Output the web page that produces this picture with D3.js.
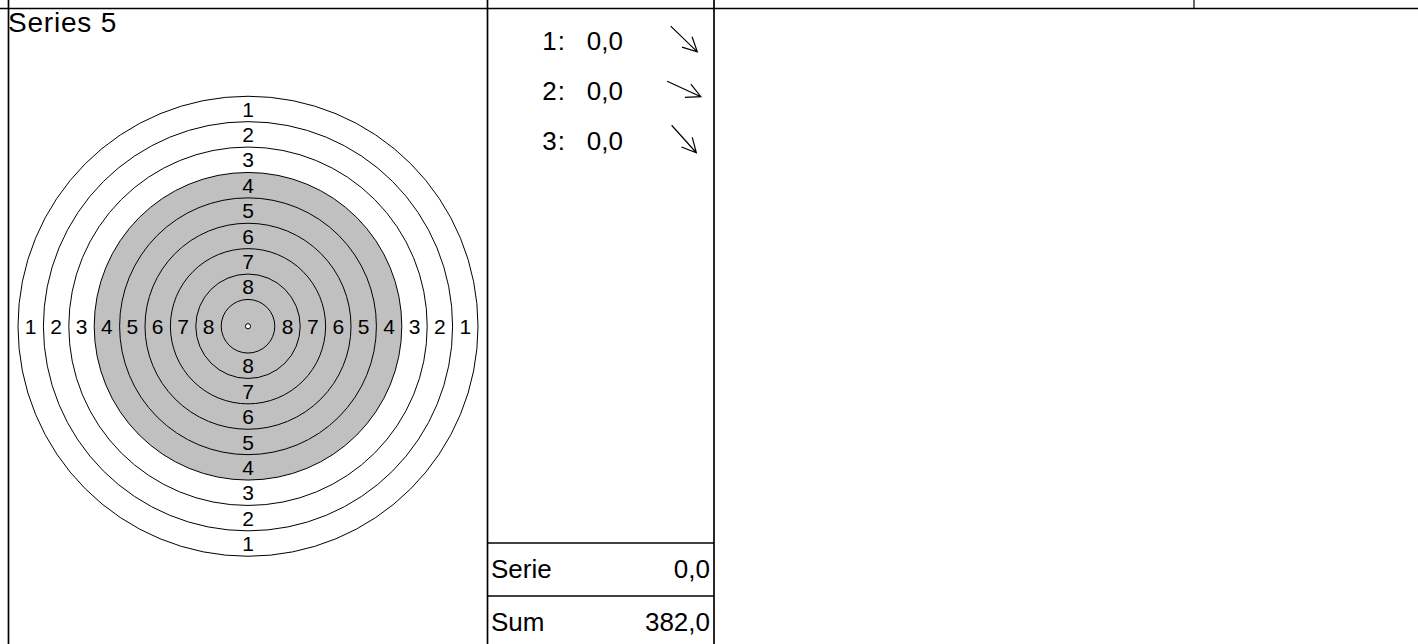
<!DOCTYPE html>
<html>
<head>
<meta charset="utf-8">
<script src="https://cdn.jsdelivr.net/npm/d3@7"></script>
<style>
  html, body { margin: 0; padding: 0; background: #fff; }
  svg { display: block; font-family: "Liberation Sans", Arial, sans-serif; }
</style>
</head>
<body>
<svg id="chart" width="1418" height="644"></svg>
<script>
// ---- data ----
const seriesTitle = "Series 5";
const ringNumbers = [1, 2, 3, 4, 5, 6, 7, 8, 9];
const ringLabels = [1, 2, 3, 4, 5, 6, 7, 8];
const blackFromRing = 4;
const shotNumbers = [1, 2, 3];
const shotValues = [0.0, 0.0, 0.0];
const shotDirections = [44, 24.5, 48]; // degrees, clockwise from east
const seriesLabel = "Serie";
const seriesValue = 0.0;
const sumLabel = "Sum";
const sumValue = 382.0;

// ---- setup ----
const W = 1418, H = 644;
const svg = d3.select("#chart");
const locale = d3.formatLocale({ decimal: ",", thousands: ".", grouping: [3], currency: ["", ""] });
const fmt = locale.format(".1f");

const frameTop = 8.5;
const colX = [8.5, 487.5, 714];
const topTick = 1194;

// frame lines
const frame = svg.append("g").attr("stroke", "#000").attr("stroke-width", 1.7).attr("fill", "none");
frame.append("line").attr("x1", 0).attr("x2", W).attr("y1", frameTop).attr("y2", frameTop);
colX.forEach(x => frame.append("line").attr("x1", x).attr("x2", x).attr("y1", 0).attr("y2", H));
frame.append("line").attr("x1", topTick).attr("x2", topTick).attr("y1", 0).attr("y2", frameTop)
  .attr("stroke-width", 1.2);

// title
svg.append("text").attr("x", 8).attr("y", 32).attr("font-size", 28)
  .attr("letter-spacing", 0.8).attr("fill", "#000").text(seriesTitle);

// ---- target ----
const cx = (colX[0] + colX[1]) / 2, cy = (frameTop + H) / 2;
const r = d3.scaleLinear().domain([1, 9]).range([230, 26.8]);
const g = svg.append("g").attr("transform", `translate(${cx},${cy})`);

g.append("circle").attr("r", r(blackFromRing)).attr("fill", "#c0c0c0");
g.selectAll("circle.ring").data(ringNumbers).join("circle")
  .attr("class", "ring").attr("r", d => r(d))
  .attr("fill", "none").attr("stroke", "#000").attr("stroke-width", 1);
g.append("circle").attr("r", 2.6).attr("fill", "#fff").attr("stroke", "#000").attr("stroke-width", 1);

const dirs = [[0, -1], [0, 1], [-1, 0], [1, 0]];
const labelData = [];
ringLabels.forEach(k => dirs.forEach(d => labelData.push({ k, d })));
g.selectAll("text.rl").data(labelData).join("text")
  .attr("class", "rl")
  .attr("x", o => o.d[0] * (r(o.k) + r(o.k + 1)) / 2)
  .attr("y", o => o.d[1] * (r(o.k) + r(o.k + 1)) / 2)
  .attr("dy", "0.36em")
  .attr("text-anchor", "middle")
  .attr("font-size", 21)
  .attr("fill", "#000")
  .text(o => o.k);

// ---- shots column ----
const rowY = d3.scaleLinear().domain([1, 3]).range([50, 150]);
const shots = shotNumbers.map((n, i) => ({ n, v: shotValues[i], a: shotDirections[i] }));
const sg = svg.append("g").attr("font-size", 26).attr("fill", "#000");
sg.selectAll("text.num").data(shots).join("text")
  .attr("class", "num").attr("x", 566).attr("y", d => rowY(d.n))
  .attr("text-anchor", "end").attr("letter-spacing", 1).text(d => d.n + ":");
sg.selectAll("text.val").data(shots).join("text")
  .attr("class", "val").attr("x", 623).attr("y", d => rowY(d.n))
  .attr("text-anchor", "end").text(d => fmt(d.v));

const arrowLen = 37, headLen = 16, headAng = 27 * Math.PI / 180;
const ag = svg.append("g").attr("stroke", "#000").attr("stroke-width", 1.2).attr("fill", "none");
shots.forEach(d => {
  const a = d.a * Math.PI / 180;
  const mx = 684, my = rowY(d.n) - 11;
  const x0 = mx - Math.cos(a) * arrowLen / 2, y0 = my - Math.sin(a) * arrowLen / 2;
  const x1 = mx + Math.cos(a) * arrowLen / 2, y1 = my + Math.sin(a) * arrowLen / 2;
  const back = a + Math.PI;
  const h1 = [x1 + Math.cos(back - headAng) * headLen, y1 + Math.sin(back - headAng) * headLen];
  const h2 = [x1 + Math.cos(back + headAng) * headLen, y1 + Math.sin(back + headAng) * headLen];
  const path = d3.path();
  path.moveTo(x0, y0); path.lineTo(x1, y1);
  path.moveTo(h1[0], h1[1]); path.lineTo(x1, y1); path.lineTo(h2[0], h2[1]);
  ag.append("path").attr("d", path.toString());
});

// summary rows
const sumG = svg.append("g");
sumG.append("line").attr("x1", colX[1]).attr("x2", colX[2]).attr("y1", 543).attr("y2", 543)
  .attr("stroke", "#000").attr("stroke-width", 1.4);
sumG.append("line").attr("x1", colX[1]).attr("x2", colX[2]).attr("y1", 596).attr("y2", 596)
  .attr("stroke", "#000").attr("stroke-width", 1.4);
const rows = [{ l: seriesLabel, v: seriesValue, y: 578 }, { l: sumLabel, v: sumValue, y: 631 }];
sumG.selectAll("text.l").data(rows).join("text").attr("class", "l")
  .attr("x", 491).attr("y", d => d.y).attr("font-size", 26).text(d => d.l);
sumG.selectAll("text.v").data(rows).join("text").attr("class", "v")
  .attr("x", 710).attr("y", d => d.y).attr("font-size", 26).attr("text-anchor", "end").text(d => fmt(d.v));
</script>
</body>
</html>
